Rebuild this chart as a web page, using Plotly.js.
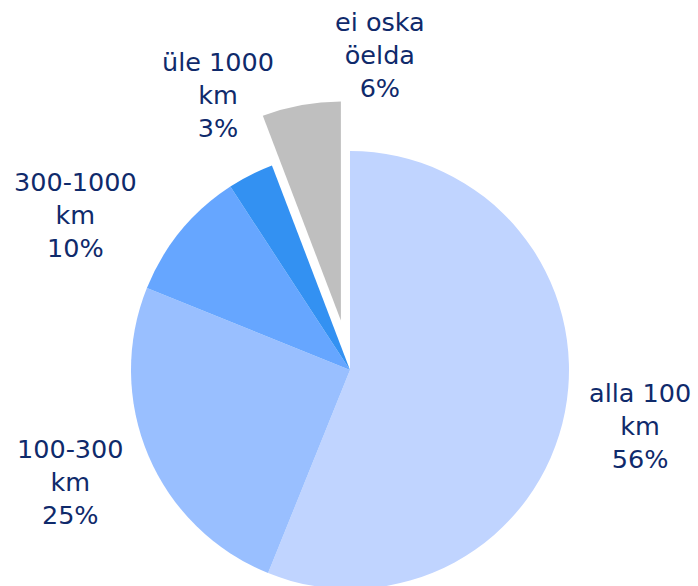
<!DOCTYPE html>
<html>
<head>
<meta charset="utf-8">
<script src="https://cdn.plot.ly/plotly-3.0.1.min.js"></script>
<style>
html, body { margin: 0; padding: 0; overflow: hidden; background: #ffffff; }
#chart { width: 698px; height: 660px; }
</style>
</head>
<body>
<div id="chart"></div>
<script>
// Data
const labels = ['alla 100<br>km', '100-300<br>km', '300-1000<br>km', 'üle 1000<br>km', 'ei oska<br>öelda'];
const values = [56.1, 25.0, 9.7, 3.4, 5.8];
const colors = ['#C0D4FF', '#99BFFF', '#66A6FF', '#3391F2', '#BFBFBF'];
const pulls = [0, 0, 0, 0, 0.23];

// Layout config (label placement in pixels, from top-left)
const W = 698, H = 660;
const labelPos = [[640, 426], [70, 482], [75, 215], [218, 95], [380, 55]];
const textColor = '#0F2A6B';
const fontFamily = 'DejaVu Sans, Verdana, sans-serif';

const total = values.reduce((a, b) => a + b, 0);
const annotations = labels.map((lab, i) => ({
  xref: 'paper', yref: 'paper',
  x: labelPos[i][0] / W,
  y: 1 - labelPos[i][1] / H,
  xanchor: 'center', yanchor: 'middle',
  text: lab + '<br>' + Math.round(values[i] / total * 100) + '%',
  showarrow: false,
  align: 'center',
  font: { family: fontFamily, size: 25.5, color: textColor }
}));

const trace = {
  type: 'pie',
  labels: labels,
  values: values,
  sort: false,
  direction: 'clockwise',
  rotation: 0,
  pull: pulls,
  marker: { colors: colors, line: { width: 0 } },
  textinfo: 'none',
  hoverinfo: 'none',
  domain: { x: [0.11552, 0.88735], y: [0.03126, 0.84753] }
};

const layout = {
  width: W, height: H,
  margin: { l: 0, r: 0, t: 0, b: 0 },
  showlegend: false,
  paper_bgcolor: '#ffffff',
  annotations: annotations,
  font: { family: fontFamily, color: textColor }
};

Plotly.newPlot('chart', [trace], layout, { displayModeBar: false, staticPlot: true });
</script>
</body>
</html>
